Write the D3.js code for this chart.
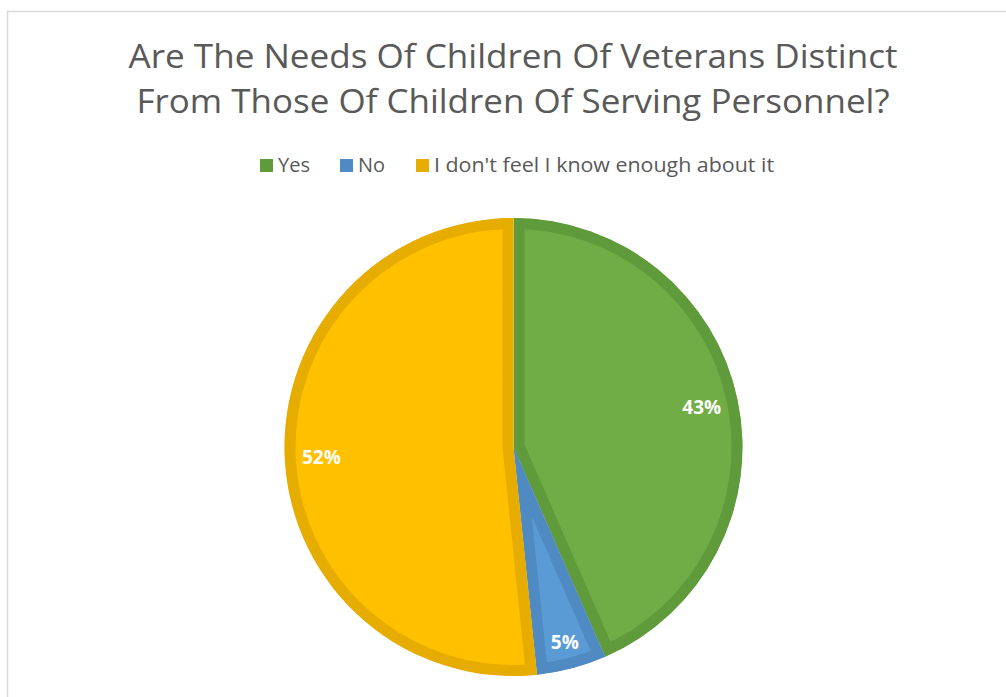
<!DOCTYPE html>
<html>
<head>
<meta charset="utf-8">
<script src="https://cdn.jsdelivr.net/npm/d3@7"></script>
<style>
  body { margin: 0; background: #fff; }
  svg { display: block; }
</style>
</head>
<body>
<svg id="chart"></svg>
<script>
// Data
var titleLines = ["Are The Needs Of Children Of Veterans Distinct",
                  "From Those Of Children Of Serving Personnel?"];
var categories = ["Yes", "No", "I don't feel I know enough about it"];
var counts = [53, 6, 63];
var fills = ["#70ad47", "#5b9bd5", "#ffc000"];
var borders = ["#5f9a3b", "#4f8ac2", "#e6ad00"];

var width = 1006, height = 697;
var svg = d3.select("#chart").attr("width", width).attr("height", height);

// chart area border (runs off the right and bottom edge)
svg.append("rect")
    .attr("x", 7.5).attr("y", 11.5)
    .attr("width", 1010).attr("height", 700)
    .attr("fill", "#fff")
    .attr("stroke", "#d9d9d9")
    .attr("stroke-width", 1.5);

// Title
var titleWidths = [769, 753];
svg.append("g").selectAll("text")
    .data(titleLines)
    .enter()
    .append("text")
    .attr("x", 513)
    .attr("y", function (d, i) { return 68 + i * 45; })
    .attr("text-anchor", "middle")
    .attr("font-family", "'Open Sans', sans-serif")
    .attr("font-size", 33)
    .attr("fill", "#595959")
    .attr("textLength", function (d, i) { return titleWidths[i]; })
    .attr("lengthAdjust", "spacingAndGlyphs")
    .text(function (d) { return d; });

// Legend
var legendX = [260, 340, 416];
var legendTextW = [32, 27, 340];
var legend = svg.append("g").selectAll("g")
    .data(categories)
    .enter()
    .append("g")
    .attr("transform", function (d, i) { return "translate(" + legendX[i] + ",159)"; });

legend.append("rect")
    .attr("width", 13).attr("height", 13)
    .attr("fill", function (d, i) { return borders[i]; });

legend.append("text")
    .attr("x", 18).attr("y", 13)
    .attr("font-family", "'Open Sans', sans-serif")
    .attr("font-size", 20)
    .attr("fill", "#595959")
    .attr("textLength", function (d, i) { return legendTextW[i]; })
    .attr("lengthAdjust", "spacingAndGlyphs")
    .text(function (d) { return d; });

// Pie
var cx = 513.5, cy = 447, radius = 229;
var total = d3.sum(counts);

var pie = d3.pie().sort(null).value(function (d) { return d; });
var arcs = pie(counts);
var arc = d3.arc().innerRadius(0).outerRadius(radius);

var defs = svg.append("defs");
defs.selectAll("clipPath")
    .data(arcs)
    .enter()
    .append("clipPath")
    .attr("id", function (d, i) { return "slice" + i; })
    .append("path")
    .attr("d", arc);

var g = svg.append("g").attr("transform", "translate(" + cx + "," + cy + ")");

// each slice has its border drawn inside its own shape
g.selectAll("path.slice")
    .data(arcs)
    .enter()
    .append("path")
    .attr("class", "slice")
    .attr("d", arc)
    .attr("fill", function (d, i) { return fills[i]; })
    .attr("stroke", function (d, i) { return borders[i]; })
    .attr("stroke-width", 22)
    .attr("stroke-linejoin", "miter")
    .attr("clip-path", function (d, i) { return "url(#slice" + i + ")"; });

// data labels, inside end
g.selectAll("text.label")
    .data(arcs)
    .enter()
    .append("text")
    .attr("class", "label")
    .attr("transform", function (d) {
        var a = (d.startAngle + d.endAngle) / 2;
        var span = d.endAngle - d.startAngle;
        var r = span < 0.5 ? radius * 0.88 : radius * 0.84;
        return "translate(" + (r * Math.sin(a)) + "," + (-r * Math.cos(a)) + ")";
    })
    .attr("text-anchor", "middle")
    .attr("dy", "0.35em")
    .attr("font-family", "'Open Sans', sans-serif")
    .attr("font-weight", "bold")
    .attr("font-size", 19)
    .attr("fill", "#fff")
    .text(function (d) { return Math.round(d.value / total * 100) + "%"; });
</script>
</body>
</html>
